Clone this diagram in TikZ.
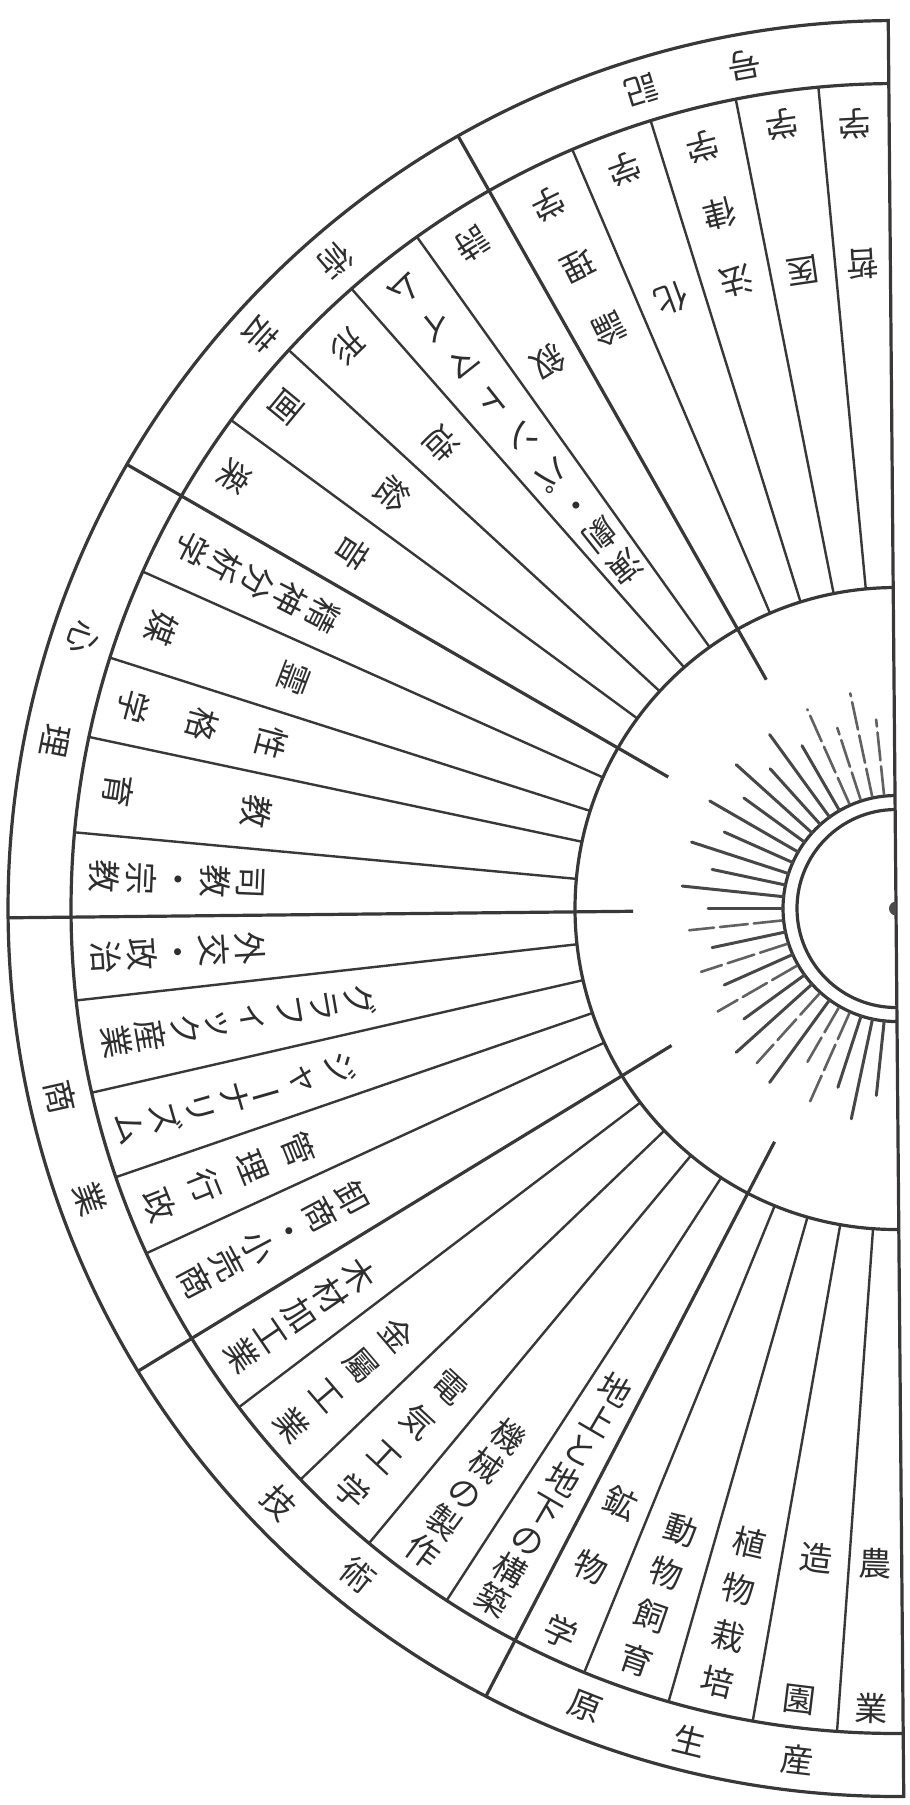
\documentclass[tikz,border=0pt]{standalone}
\usepackage{fontspec}
\usepackage{graphicx}
\newfontfamily\cjk{Noto Sans CJK JP}
\newcommand\vbar{\rotatebox[origin=c]{-90}{ー}}
\tikzset{
  lbl/.style={text=black!82, inner sep=0pt, align=center},
  rimline/.style={draw=black!78, line width=1.6pt},
  segline/.style={draw=black!78, line width=1.2pt},
  catline/.style={draw=black!78, line width=1.6pt},
  rayline/.style={draw=black!72, line width=1.5pt, line cap=round},
  rayfaint/.style={draw=black!62, line width=1.3pt, line cap=round, dash pattern=on 14pt off 3pt}
}
% #1 angle, #2 first radius, #3 spacing, #4 number of characters, #5 stacked text
\newcommand\radlbl[5]{%
  \pgfmathsetmacro\midr{#2+(#4-1)*#3/2}%
  \pgfmathsetmacro\bskip{#3*0.5}%
  \node[lbl, rotate={#1+90}, font={\cjk\fontsize{16.5}{\bskip pt}\selectfont}] at ({#1}:{\midr}) {#5};}
\newcommand\rimtext[2]{\node[lbl, rotate={#1+90}, font={\cjk\fontsize{16.5}{17}\selectfont}] at ({#1}:857) {#2};}
\begin{document}
\begin{tikzpicture}[x=0.5pt, y=0.5pt]
\useasboundingbox[fill=white] (0,0) rectangle (910,-1805);
\begin{scope}[shift={(896,-908.5)}]
  % outer rim and rings
  \draw[rimline] (90.5:888) arc[start angle=90.5, end angle=270.5, radius=888] -- cycle;
  \draw[catline] (90.5:825) arc[start angle=90.5, end angle=270.5, radius=825];
  \draw[catline] (90.5:321) arc[start angle=90.5, end angle=270.5, radius=321];
  \draw[catline] (90.5:113) arc[start angle=90.5, end angle=270.5, radius=113];
  \draw[catline] (90.5:99) arc[start angle=90.5, end angle=270.5, radius=99];
  \fill[black!70] (90.5:7) arc[start angle=90.5, end angle=270.5, radius=7] -- cycle;
  % segment dividers
  \foreach \a in {95.4,101.2,107.3,113.1, 125.5,131.3,137.4,143.7,
                  155.9,162.3,168.0,174.7, 186.4,192.9,199.0,204.7,
                  217.2,223.8,230.3,237.0, 247.8,254.0,260.0,265.9}
    \draw[segline] (\a:321) -- (\a:825);
  % category dividers (extend into the inner area)
  \foreach \a in {119.55,150.0,180.6,211.4,242.5}
    \draw[catline] (\a:263) -- (\a:888);
  % rays
  \foreach \a in {120,126,132,138,144,150,156,162,168,174,180,192,204,216,222,234,252,258,264}{
    \pgfmathtruncatemacro\odd{mod(round((\a-96)/6),2)}
    \ifnum\odd=1 \draw[rayline] (\a:113) -- (\a:215);
    \else \draw[rayline] (\a:113) -- (\a:188); \fi}
  \foreach \a/\r in {96/190,102/220,108/190,114/218,186/208,198/205,210/206,228/208,240/178,246/214}
    \draw[rayfaint] (\a:115) -- (\a:\r);
  % category labels
  \rimtext{107.3}{記}\rimtext{100.2}{号}
  \rimtext{137.9}{芸}\rimtext{130.9}{術}
  \rimtext{161.6}{心}\rimtext{168.7}{理}
  \rimtext{192.7}{商}\rimtext{199.8}{業}
  \rimtext{223.9}{技}\rimtext{231.1}{術}
  \rimtext{248.7}{原}\rimtext{256.1}{生}\rimtext{263.4}{産}
  % segment labels
  \radlbl{93}{646}{140}{2}{哲\\学}
  \radlbl{98.3}{645}{148}{2}{医\\学}
  \radlbl{104.25}{648}{69}{3}{法\\律\\学}
  \radlbl{110.2}{650}{138}{2}{化\\学}
  \radlbl{116.3}{647}{69.5}{3}{論\\理\\学}
  \radlbl{122.5}{648}{140}{2}{叙\\詩}
  \radlbl{128.4}{435}{39}{3}{演\\劇\\・}
  \radlbl{128.4}{553}{47.2}{6}{パ\\ン\\ト\\マ\\イ\\ム}
  \radlbl{134.35}{650}{135}{2}{造\\形}
  \radlbl{140.55}{652}{137}{2}{絵\\画}
  \radlbl{146.85}{649}{140}{2}{音\\楽}
  \radlbl{152.95}{643}{36.75}{5}{精\\神\\分\\析\\学}
  \radlbl{159.1}{645}{142}{2}{霊\\媒}
  \radlbl{165.15}{646}{71.5}{3}{性\\格\\学}
  \radlbl{171.35}{646.5}{140}{2}{教\\育}
  \radlbl{177.7}{646}{36.75}{5}{司\\教\\・\\宗\\教}
  \radlbl{183.5}{647}{36}{5}{外\\交\\・\\政\\治}
  \radlbl{189.7}{544}{35.3}{8}{グ\\ラ\\フ\\ィ\\ッ\\ク\\産\\業}
  \radlbl{196}{578}{36.5}{7}{ジ\\ャ\\\vbar\\ナ\\リ\\ズ\\ム}
  \radlbl{201.9}{644}{50}{4}{管\\理\\行\\政}
  \radlbl{208}{616}{35.4}{6}{卸\\商\\・\\小\\売\\商}
  \radlbl{214.3}{650}{35.5}{5}{木\\材\\加\\工\\業}
  \radlbl{220.5}{657}{46}{4}{金\\屬\\工\\業}
  \radlbl{227}{654}{48}{4}{電\\気\\工\\学}
  \radlbl{233.65}{655}{35.75}{5}{機\\械\\の\\製\\作}
  \radlbl{239.75}{557}{34.7}{8}{地\\上\\と\\地\\下\\の\\構\\築}
  \radlbl{245.15}{655}{71}{3}{鉱\\物\\学}
  \radlbl{250.9}{658}{45.7}{4}{動\\物\\飼\\育}
  \radlbl{257}{651}{47.7}{4}{植\\物\\栽\\培}
  \radlbl{263}{654}{142}{2}{造\\園}
  \radlbl{268.2}{655}{145}{2}{農\\業}
\end{scope}
\end{tikzpicture}
\end{document}
